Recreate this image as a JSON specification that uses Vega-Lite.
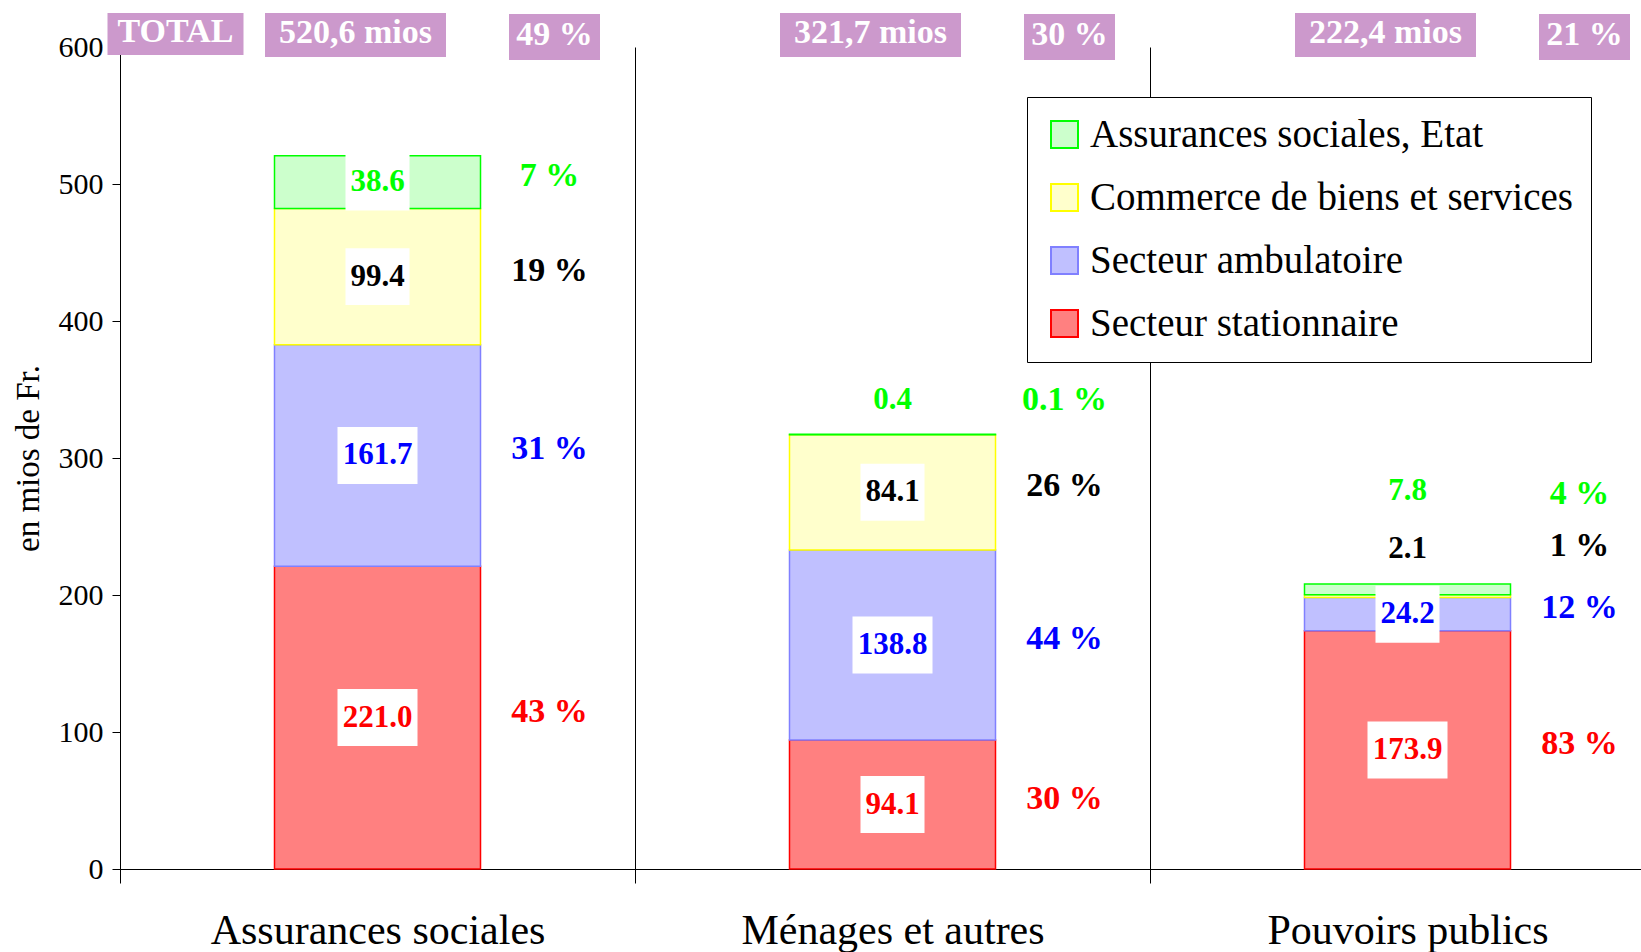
{
  "$schema": "https://vega.github.io/schema/vega-lite/v6.json",
  "autosize": {"type": "none"},
  "width": 1521,
  "height": 822,
  "padding": {"left": 120, "top": 47, "right": 0, "bottom": 83},
  "background": "white",
  "config": {
    "view": {"stroke": null},
    "font": "Liberation Serif",
    "axisY": {"domainColor": "black", "tickColor": "black", "tickSize": 8, "grid": false, "labelFont": "Liberation Serif", "labelFontSize": 30, "labelColor": "black", "labelPadding": 9, "titleFont": "Liberation Serif", "titleFontSize": 33, "titleFontWeight": "normal", "titleColor": "black", "titlePadding": 13}
  },
  "datasets": {
    "seg": [
      {"cat": "Assurances sociales", "sector": "Secteur stationnaire", "value": 221.0, "pct": 43},
      {"cat": "Assurances sociales", "sector": "Secteur ambulatoire", "value": 161.7, "pct": 31},
      {"cat": "Assurances sociales", "sector": "Commerce de biens et services", "value": 99.4, "pct": 19},
      {"cat": "Assurances sociales", "sector": "Assurances sociales, Etat", "value": 38.6, "pct": 7},
      {"cat": "Ménages et autres", "sector": "Secteur stationnaire", "value": 94.1, "pct": 30},
      {"cat": "Ménages et autres", "sector": "Secteur ambulatoire", "value": 138.8, "pct": 44},
      {"cat": "Ménages et autres", "sector": "Commerce de biens et services", "value": 84.1, "pct": 26},
      {"cat": "Ménages et autres", "sector": "Assurances sociales, Etat", "value": 0.4, "pct": 0.1},
      {"cat": "Pouvoirs publics", "sector": "Secteur stationnaire", "value": 173.9, "pct": 83},
      {"cat": "Pouvoirs publics", "sector": "Secteur ambulatoire", "value": 24.2, "pct": 12},
      {"cat": "Pouvoirs publics", "sector": "Commerce de biens et services", "value": 2.1, "pct": 1},
      {"cat": "Pouvoirs publics", "sector": "Assurances sociales, Etat", "value": 7.8, "pct": 4}
    ],
    "head": [
      {"cat": "Assurances sociales", "total": "520,6 mios", "share": "49 %", "lead": "TOTAL"},
      {"cat": "Ménages et autres", "total": "321,7 mios", "share": "30 %", "lead": ""},
      {"cat": "Pouvoirs publics", "total": "222,4 mios", "share": "21 %", "lead": ""}
    ]
  },
  "encoding": {
    "x": {
      "field": "cat", "type": "nominal", "title": null,
      "scale": {"domain": ["Assurances sociales", "Ménages et autres", "Pouvoirs publics"], "range": [0, 1545], "paddingInner": 0, "paddingOuter": 0},
      "axis": {"domainColor": "black", "domainWidth": 1, "tickColor": "black", "tickBand": "extent", "tickSize": 14, "grid": true, "gridColor": "black", "gridOpacity": 1, "gridWidth": 1, "labelFont": "Liberation Serif", "labelFontSize": 42, "labelColor": "black", "labelPadding": 27, "labelAngle": 0, "labelLimit": 700}
    }
  },
  "layer": [
    {
      "data": {"name": "seg"},
      "transform": [
        {"stack": "value", "groupby": ["cat"], "sort": [{"field": "sector", "order": "descending"}], "as": ["v0", "v1"]},
        {"calculate": "(datum.v0 + datum.v1) / 2", "as": "mid"},
        {"calculate": "format(datum.pct, '.1~f') + ' %'", "as": "pctText"}
      ],
      "layer": [
        {
          "mark": {"type": "bar", "strokeWidth": 1.5, "width": {"band": 0.4}},
          "encoding": {
            "y": {"field": "v0", "type": "quantitative", "title": "en mios de Fr.",
              "scale": {"domain": [0, 600], "nice": false},
              "axis": {"values": [0, 100, 200, 300, 400, 500, 600]}},
            "y2": {"field": "v1"},
            "fill": {"field": "sector", "type": "nominal",
              "scale": {"domain": ["Assurances sociales, Etat", "Commerce de biens et services", "Secteur ambulatoire", "Secteur stationnaire"], "range": ["#CCFFCC", "#FFFFCC", "#C0C0FF", "#FF8080"]},
              "legend": {"orient": "none", "legendX": 907, "legendY": 50, "title": null, "fillColor": "white", "strokeColor": "black", "padding": 18, "symbolType": "square", "symbolSize": 729, "symbolStrokeWidth": 2, "symbolOpacity": 1, "labelFont": "Liberation Serif", "labelFontSize": 39, "labelColor": "black", "labelOffset": 6, "rowPadding": 23, "labelLimit": 700}},
            "stroke": {"field": "sector", "type": "nominal",
              "scale": {"domain": ["Assurances sociales, Etat", "Commerce de biens et services", "Secteur ambulatoire", "Secteur stationnaire"], "range": ["#00FF00", "#FFFF00", "#8080FF", "#FF0000"]},
              "legend": {"orient": "none", "legendX": 907, "legendY": 50, "title": null, "fillColor": "white", "strokeColor": "black", "padding": 18, "symbolType": "square", "symbolSize": 729, "symbolStrokeWidth": 2, "symbolOpacity": 1, "labelFont": "Liberation Serif", "labelFontSize": 39, "labelColor": "black", "labelOffset": 6, "rowPadding": 23, "labelLimit": 700}}
          }
        },
        {
          "transform": [{"filter": "datum.value >= 100"}],
          "mark": {"type": "point", "shape": "M-1,-0.7125H1V0.7125H-1Z", "size": 6400, "filled": true, "fill": "white", "opacity": 1, "strokeWidth": 0},
          "encoding": {"y": {"field": "mid", "type": "quantitative", "title": "en mios de Fr."}}
        },
        {
          "transform": [{"filter": "datum.value >= 10 && datum.value < 100"}],
          "mark": {"type": "point", "shape": "M-1,-0.89H1V0.89H-1Z", "size": 4096, "filled": true, "fill": "white", "opacity": 1, "strokeWidth": 0},
          "encoding": {"y": {"field": "mid", "type": "quantitative", "title": "en mios de Fr."}}
        },
        {
          "transform": [{"filter": "datum.value >= 10"}],
          "mark": {"type": "text", "font": "Liberation Serif", "fontWeight": "bold", "fontSize": 31, "baseline": "middle", "align": "center"},
          "encoding": {
            "y": {"field": "mid", "type": "quantitative", "title": "en mios de Fr."},
            "text": {"field": "value", "type": "quantitative", "format": ".1f"},
            "color": {"condition": [
              {"test": "datum.sector === 'Secteur stationnaire'", "value": "#FF0000"},
              {"test": "datum.sector === 'Secteur ambulatoire'", "value": "#0000FF"},
              {"test": "datum.sector === 'Assurances sociales, Etat'", "value": "#00FF00"}
            ], "value": "black"}
          }
        },
        {
          "transform": [{"filter": "datum.cat === 'Ménages et autres' && datum.sector === 'Assurances sociales, Etat'"}],
          "mark": {"type": "text", "font": "Liberation Serif", "fontWeight": "bold", "fontSize": 31, "baseline": "middle", "align": "center", "dy": -34},
          "encoding": {
            "y": {"field": "mid", "type": "quantitative", "title": "en mios de Fr."},
            "text": {"field": "value", "type": "quantitative", "format": ".1f"},
            "color": {"value": "#00FF00"}
          }
        },
        {
          "transform": [{"filter": "datum.cat === 'Pouvoirs publics' && datum.sector === 'Commerce de biens et services'"}],
          "mark": {"type": "text", "font": "Liberation Serif", "fontWeight": "bold", "fontSize": 31, "baseline": "middle", "align": "center", "dy": -47},
          "encoding": {
            "y": {"field": "mid", "type": "quantitative", "title": "en mios de Fr."},
            "text": {"field": "value", "type": "quantitative", "format": ".1f"},
            "color": {"value": "black"}
          }
        },
        {
          "transform": [{"filter": "datum.cat === 'Pouvoirs publics' && datum.sector === 'Assurances sociales, Etat'"}],
          "mark": {"type": "text", "font": "Liberation Serif", "fontWeight": "bold", "fontSize": 31, "baseline": "middle", "align": "center", "dy": -98},
          "encoding": {
            "y": {"field": "mid", "type": "quantitative", "title": "en mios de Fr."},
            "text": {"field": "value", "type": "quantitative", "format": ".1f"},
            "color": {"value": "#00FF00"}
          }
        },
        {
          "transform": [{"filter": "datum.value >= 10"}],
          "mark": {"type": "text", "font": "Liberation Serif", "fontWeight": "bold", "fontSize": 34, "baseline": "middle", "align": "center", "dx": 172, "dy": -6},
          "encoding": {
            "y": {"field": "mid", "type": "quantitative", "title": "en mios de Fr."},
            "text": {"field": "pctText", "type": "nominal"},
            "color": {"condition": [
              {"test": "datum.sector === 'Secteur stationnaire'", "value": "#FF0000"},
              {"test": "datum.sector === 'Secteur ambulatoire'", "value": "#0000FF"},
              {"test": "datum.sector === 'Assurances sociales, Etat'", "value": "#00FF00"}
            ], "value": "black"}
          }
        },
        {
          "transform": [{"filter": "datum.cat === 'Ménages et autres' && datum.sector === 'Assurances sociales, Etat'"}],
          "mark": {"type": "text", "font": "Liberation Serif", "fontWeight": "bold", "fontSize": 34, "baseline": "middle", "align": "center", "dx": 172, "dy": -34},
          "encoding": {
            "y": {"field": "mid", "type": "quantitative", "title": "en mios de Fr."},
            "text": {"field": "pctText", "type": "nominal"},
            "color": {"value": "#00FF00"}
          }
        },
        {
          "transform": [{"filter": "datum.cat === 'Pouvoirs publics' && datum.sector === 'Commerce de biens et services'"}],
          "mark": {"type": "text", "font": "Liberation Serif", "fontWeight": "bold", "fontSize": 34, "baseline": "middle", "align": "center", "dx": 172, "dy": -50},
          "encoding": {
            "y": {"field": "mid", "type": "quantitative", "title": "en mios de Fr."},
            "text": {"field": "pctText", "type": "nominal"},
            "color": {"value": "black"}
          }
        },
        {
          "transform": [{"filter": "datum.cat === 'Pouvoirs publics' && datum.sector === 'Assurances sociales, Etat'"}],
          "mark": {"type": "text", "font": "Liberation Serif", "fontWeight": "bold", "fontSize": 34, "baseline": "middle", "align": "center", "dx": 172, "dy": -95},
          "encoding": {
            "y": {"field": "mid", "type": "quantitative", "title": "en mios de Fr."},
            "text": {"field": "pctText", "type": "nominal"},
            "color": {"value": "#00FF00"}
          }
        }
      ]
    },
    {
      "data": {"name": "head"},
      "layer": [
        {
          "mark": {"type": "point", "shape": "M-1,-0.243H1V0.243H-1Z", "size": 32761, "filled": true, "fill": "#CC99CC", "opacity": 1, "strokeWidth": 0, "xOffset": -22, "yOffset": -12},
          "encoding": {"y": {"datum": 600, "type": "quantitative", "title": "en mios de Fr."}}
        },
        {
          "mark": {"type": "point", "shape": "M-1,-0.505H1V0.505H-1Z", "size": 8281, "filled": true, "fill": "#CC99CC", "opacity": 1, "strokeWidth": 0, "xOffset": 177, "yOffset": -10},
          "encoding": {"y": {"datum": 600, "type": "quantitative", "title": "en mios de Fr."}}
        },
        {
          "transform": [{"filter": "datum.lead !== ''"}],
          "mark": {"type": "point", "shape": "M-1,-0.309H1V0.309H-1Z", "size": 18496, "filled": true, "fill": "#CC99CC", "opacity": 1, "strokeWidth": 0, "xOffset": -202, "yOffset": -13},
          "encoding": {"y": {"datum": 600, "type": "quantitative", "title": "en mios de Fr."}}
        },
        {
          "mark": {"type": "text", "font": "Liberation Serif", "fontWeight": "bold", "fontSize": 34, "baseline": "middle", "align": "center", "color": "white", "dx": -22, "dy": -14},
          "encoding": {"y": {"datum": 600, "type": "quantitative", "title": "en mios de Fr."}, "text": {"field": "total", "type": "nominal"}}
        },
        {
          "mark": {"type": "text", "font": "Liberation Serif", "fontWeight": "bold", "fontSize": 34, "baseline": "middle", "align": "center", "color": "white", "dx": 177, "dy": -12},
          "encoding": {"y": {"datum": 600, "type": "quantitative", "title": "en mios de Fr."}, "text": {"field": "share", "type": "nominal"}}
        },
        {
          "transform": [{"filter": "datum.lead !== ''"}],
          "mark": {"type": "text", "font": "Liberation Serif", "fontWeight": "bold", "fontSize": 34, "baseline": "middle", "align": "center", "color": "white", "dx": -202, "dy": -15},
          "encoding": {"y": {"datum": 600, "type": "quantitative", "title": "en mios de Fr."}, "text": {"field": "lead", "type": "nominal"}}
        }
      ]
    }
  ]
}
